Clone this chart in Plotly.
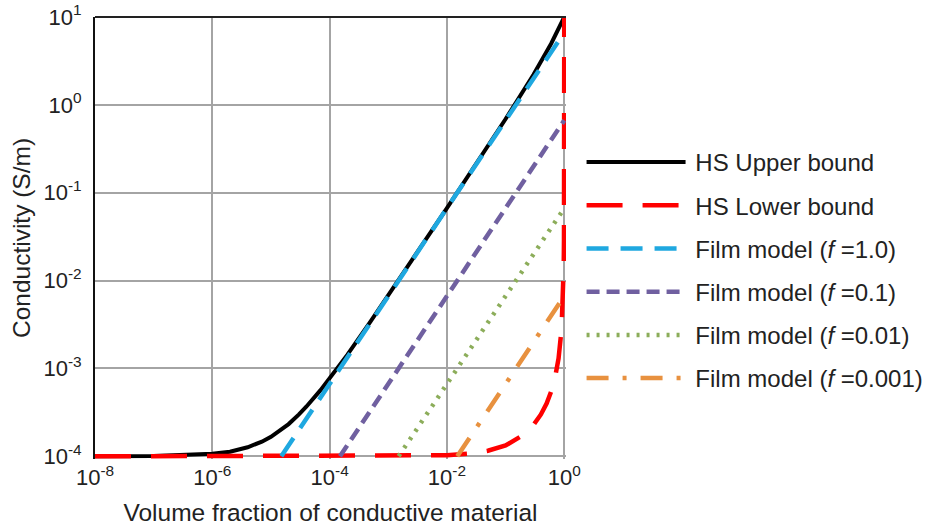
import plotly.graph_objects as go

# Volume fraction of conductive material (x) and conductivity in S/m (y)
phi_upper = [1e-8, 1e-7, 1e-6, 2e-6, 4e-6, 7e-6, 1e-5, 2e-5, 3e-5, 4e-5, 7e-5,
             1e-4, 2e-4, 5e-4, 1e-3, 1e-2, 1e-1, 0.3, 0.6, 1.0]
sigma_upper = [1.0e-4, 1.01e-4, 1.07e-4, 1.13e-4, 1.27e-4, 1.47e-4, 1.67e-4, 2.33e-4,
               3.0e-4, 3.67e-4, 5.67e-4, 7.67e-4, 1.43e-3, 3.43e-3, 6.77e-3, 6.7e-2,
               0.69, 2.22, 5.0, 10.0]

phi_lower = [1e-8, 1e-2, 3e-2, 5e-2, 0.1, 0.2, 0.3, 0.4, 0.5, 0.6, 0.7, 0.8, 0.9,
             0.95, 0.98, 0.99, 0.995, 0.999, 0.9999, 1.0]
sigma_lower = [1.0e-4, 1.03e-4, 1.09e-4, 1.16e-4, 1.33e-4, 1.75e-4, 2.29e-4, 3.0e-4,
               4.0e-4, 5.5e-4, 8.0e-4, 1.3e-3, 2.8e-3, 5.8e-3, 1.48e-2, 2.97e-2,
               5.94e-2, 0.291, 2.31, 10.0]

phi_film_1 = [1.5e-5, 1.0]
sigma_film_1 = [1e-4, 6.67]
phi_film_01 = [1.5e-4, 1.0]
sigma_film_01 = [1e-4, 0.667]
phi_film_001 = [1.5e-3, 1.0]
sigma_film_001 = [1e-4, 0.0667]
phi_film_0001 = [1.5e-2, 1.0]
sigma_film_0001 = [1e-4, 0.00667]

x_tickvals = [1e-8, 1e-6, 1e-4, 1e-2, 1e0]
x_ticktext = ["10<sup>-8</sup>", "10<sup>-6</sup>", "10<sup>-4</sup>",
              "10<sup>-2</sup>", "10<sup>0</sup>"]
y_tickvals = [1e-4, 1e-3, 1e-2, 1e-1, 1e0, 1e1]
y_ticktext = ["10<sup>-4</sup>", "10<sup>-3</sup>", "10<sup>-2</sup>",
              "10<sup>-1</sup>", "10<sup>0</sup>", "10<sup>1</sup>"]

FONT = "Liberation Sans, Arial, sans-serif"
TEXT = "#222222"
GRID = "#A4A4A4"
PAD = "\u2009"  # thin space between legend sample and label

series = [
    ("HS Upper bound", phi_upper, sigma_upper, "#000000", "solid", 4),
    ("HS Lower bound", phi_lower, sigma_lower, "#FF0000", "36px,20px", 4.5),
    ("Film model (<i>f</i> =1.0)", phi_film_1, sigma_film_1, "#1FA8E0", "22px,12px", 4.5),
    ("Film model (<i>f</i> =0.1)", phi_film_01, sigma_film_01, "#7060A0", "13px,7px", 4.5),
    ("Film model (<i>f</i> =0.01)", phi_film_001, sigma_film_001, "#8CAD5A", "3px,7px", 4.5),
    ("Film model (<i>f</i> =0.001)", phi_film_0001, sigma_film_0001, "#E8913F",
     "22px,14px,4px,14px", 4.5),
]

fig = go.Figure()
for i, (name, xs, ys, color, dash, width) in enumerate(series):
    fig.add_trace(go.Scatter(
        x=xs, y=ys, mode="lines", name=PAD + name, legendgroup=f"g{i}",
        line=dict(color=color, dash=dash, width=width),
    ))

fig.update_layout(
    width=938, height=527,
    margin=dict(l=95, r=372, t=17, b=68, autoexpand=False),
    paper_bgcolor="white", plot_bgcolor="white",
    font=dict(family=FONT, size=21, color=TEXT),
    showlegend=True,
    legend=dict(
        xref="container", yref="container",
        x=0.62, y=1 - 140 / 527, xanchor="left", yanchor="top",
        font=dict(family=FONT, size=24, color=TEXT),
        itemwidth=99, tracegroupgap=9, bgcolor="rgba(0,0,0,0)",
        maxheight=1.0,
    ),
    xaxis=dict(
        type="log", range=[-8, 0.03], automargin=False,
        tickvals=x_tickvals, ticktext=x_ticktext,
        showgrid=True, gridcolor=GRID, gridwidth=1.5,
        showline=False, zeroline=False, ticks="",
        tickfont=dict(family=FONT, size=22, color=TEXT), ticklabelstandoff=3,
        title=dict(text="Volume fraction of conductive material",
                   font=dict(family=FONT, size=24.5, color=TEXT), standoff=14),
    ),
    yaxis=dict(
        type="log", range=[-4.03, 1], automargin=False,
        tickvals=y_tickvals, ticktext=y_ticktext,
        showgrid=True, gridcolor=GRID, gridwidth=1.5,
        showline=True, linecolor="#111111", linewidth=2,
        zeroline=False, ticks="",
        tickfont=dict(family=FONT, size=22, color=TEXT), ticklabelstandoff=7,
        title=dict(text="Conductivity (S/m)",
                   font=dict(family=FONT, size=24.5, color=TEXT), standoff=6),
    ),
    shapes=[dict(type="line", xref="paper", yref="paper", x0=0, x1=1, y0=1, y1=1,
                 line=dict(color="#222222", width=2), layer="above")],
)

fig.write_html("out.html")
